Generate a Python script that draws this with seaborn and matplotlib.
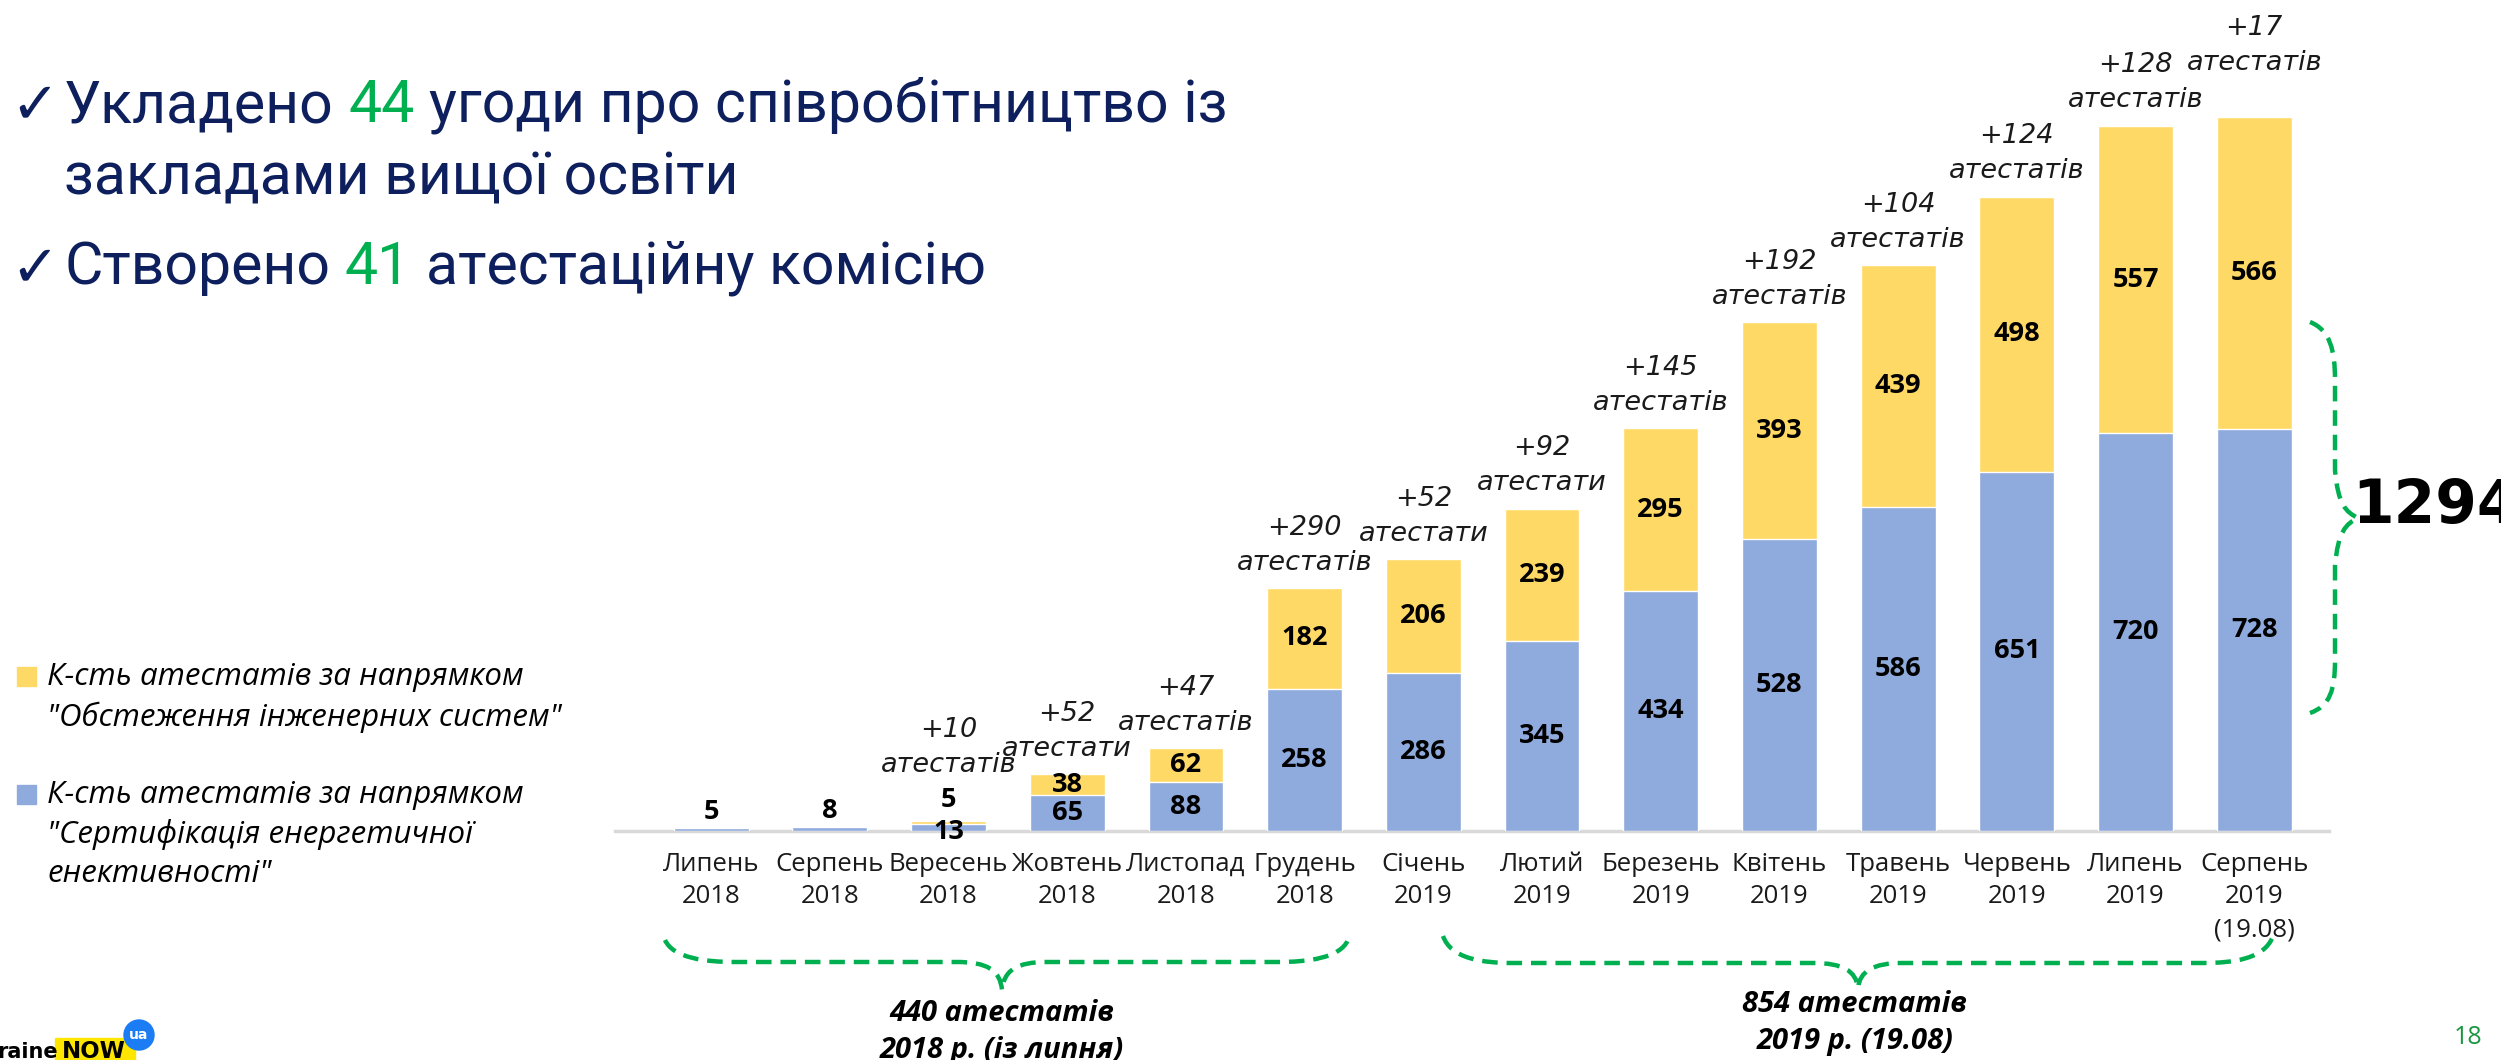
import matplotlib
matplotlib.use("Agg")
import matplotlib.pyplot as plt
from matplotlib import font_manager as fm
from matplotlib.path import Path
from matplotlib.patches import PathPatch, Rectangle, Circle
import pandas as pd
import seaborn as sns

# ---------- data ----------
months = ["Липень\n2018", "Серпень\n2018", "Вересень\n2018", "Жовтень\n2018",
          "Листопад\n2018", "Грудень\n2018", "Січень\n2019", "Лютий\n2019",
          "Березень\n2019", "Квітень\n2019", "Травень\n2019", "Червень\n2019",
          "Липень\n2019", "Серпень\n2019\n(19.08)"]
energy_cert = [5, 8, 13, 65, 88, 258, 286, 345, 434, 528, 586, 651, 720, 728]
eng_survey = [0, 0, 5, 38, 62, 182, 206, 239, 295, 393, 439, 498, 557, 566]
increments = ["", "", "+10\nатестатів", "+52\nатестати", "+47\nатестатів",
              "+290\nатестатів", "+52\nатестати", "+92\nатестати",
              "+145\nатестатів", "+192\nатестатів", "+104\nатестатів",
              "+124\nатестатів", "+128\nатестатів", "+17\nатестатів"]
legend_labels = ["К-сть атестатів за напрямком\n\"Обстеження інженерних систем\"",
                 "К-сть атестатів за напрямком\n\"Сертифікація енергетичної\nенективності\""]
total_label = "1294"
brace_2018 = "440 атестатів\n2018 р. (із липня)"
brace_2019 = "854 атестатів\n2019 р. (19.08)"

YELLOW = "#ffd966"
BLUE = "#8faadc"
GREEN = "#00b050"
NAVY = "#0e1f5e"

# pick a narrow face for the headline if one is around
_names = {f.name for f in fm.fontManager.ttflist}
HEAD = ["Liberation Sans Narrow" if "Liberation Sans Narrow" in _names else "Roboto",
        "DejaVu Sans"]
BODY = ["Open Sans", "DejaVu Sans"]
ROUND = ["DejaVu Sans"]

df = pd.DataFrame({"month": months, "cert": energy_cert, "survey": eng_survey})
df["total"] = df["cert"] + df["survey"]

sns.set_style("white")
plt.rcParams["font.family"] = BODY

fig = plt.figure(figsize=(25.01, 10.60), dpi=100)
ax = fig.add_axes([615 / 2501, (1060 - 831) / 1060, (2329 - 615) / 2501, 831 / 1060])

sns.barplot(data=df, x="month", y="total", color=YELLOW, saturation=1,
            width=0.63, ax=ax, zorder=2)
sns.barplot(data=df, x="month", y="cert", color=BLUE, saturation=1,
            width=0.63, ax=ax, zorder=3)

ax.set_xlim(-0.81, 13.63)
ax.set_ylim(0, 1505)
for s in ["top", "right", "left"]:
    ax.spines[s].set_visible(False)
ax.spines["bottom"].set_color("#d9d9d9")
ax.spines["bottom"].set_linewidth(2.5)
ax.set_xlabel("")
ax.set_ylabel("")
ax.set_yticks([])
ax.set_xticks(range(len(months)))
ax.set_xticklabels(months, family=BODY, fontsize=18.5, color="#1a1a1a",
                   linespacing=1.4, va="top")
ax.tick_params(axis="x", length=0, pad=15)

# data labels + increments
lab = dict(family=BODY, fontsize=19.5, fontweight="bold", color="black",
           ha="center", zorder=5)
totals = df["total"].tolist()
for i, (c, s) in enumerate(zip(energy_cert, eng_survey)):
    tot = c + s
    extra = 0
    if s == 0:
        ax.annotate(str(c), (i, c), xytext=(0, 2), textcoords="offset points",
                    va="bottom", **lab)
    elif tot < 40:
        ax.annotate(str(c), (i, 0), xytext=(0, -1), textcoords="offset points",
                    va="center", **lab)
        ax.annotate(str(s), (i, tot), xytext=(0, 6), textcoords="offset points",
                    va="bottom", **lab)
        extra = 22
    else:
        ax.text(i, c / 2, str(c), va="center", **lab)
        ax.text(i, c + s / 2, str(s), va="center", **lab)
    if increments[i]:
        # lift the label a line when the bar before is nearly as tall
        if i > 0 and tot - totals[i - 1] < 0.05 * tot:
            extra += 20
        ax.annotate(increments[i], (i, tot), xytext=(0, 9 + extra),
                    textcoords="offset points", ha="center", va="bottom",
                    family=ROUND, fontstyle="italic", fontsize=19.5,
                    color="#1a1a1a", linespacing=1.45, annotation_clip=False)

# ---------- overlay in figure pixels ----------
ov = fig.add_axes([0, 0, 1, 1], facecolor="none", zorder=10)
ov.set_xlim(0, 2501)
ov.set_ylim(1060, 0)
ov.axis("off")
rend = fig.canvas.get_renderer()


def text_w(s, **kw):
    t = ov.text(0, 0, s, **kw)
    w = t.get_window_extent(renderer=rend).width
    t.remove()
    return w


def rich_line(x, y, parts, **kw):
    prefix = ""
    for s, col in parts:
        if s == " ":
            prefix += s
            continue
        off = text_w(prefix + "X", **kw) - text_w("X", **kw) if prefix else 0
        ov.text(x + off, y, s, color=col, ha="left", va="baseline", **kw)
        prefix += s


tkw = dict(family=HEAD, fontsize=42.5)
ck = dict(color=NAVY, family=["DejaVu Sans"], fontsize=42, va="baseline")
ov.text(10, 122, "✓", **ck)
ov.text(10, 285, "✓", **ck)
rich_line(64, 122, [("Укладено", NAVY), (" ", None), ("44", GREEN), (" ", None),
                    ("угоди про співробітництво із", NAVY)], **tkw)
ov.text(64, 194, "закладами вищої освіти", color=NAVY, va="baseline", **tkw)
rich_line(64, 284, [("Створено", NAVY), (" ", None), ("41", GREEN), (" ", None),
                    ("атестаційну комісію", NAVY)], **tkw)

# legend
ov.add_patch(Rectangle((17, 667), 19, 19, color=YELLOW))
ov.add_patch(Rectangle((17, 785), 19, 19, color=BLUE))
lkw = dict(family=BODY, fontsize=22.5, fontstyle="italic", color="black",
           linespacing=1.38, va="top", ha="left")
ov.text(47, 662, legend_labels[0], **lkw)
ov.text(47, 780, legend_labels[1], **lkw)


def hbrace(x0, x1, xt, ye, ym, yt):
    verts = [(x0, ye), (x0 + 8, ym - 4), (x0 + 40, ym), (x0 + 70, ym),
             (xt - 45, ym), (xt - 15, ym), (xt - 2, ym + 8), (xt, yt),
             (xt + 2, ym + 8), (xt + 15, ym), (xt + 45, ym),
             (x1 - 70, ym), (x1 - 40, ym), (x1 - 8, ym - 4), (x1, ye)]
    codes = [Path.MOVETO, Path.CURVE4, Path.CURVE4, Path.CURVE4,
             Path.LINETO, Path.CURVE4, Path.CURVE4, Path.CURVE4,
             Path.CURVE4, Path.CURVE4, Path.CURVE4,
             Path.LINETO, Path.CURVE4, Path.CURVE4, Path.CURVE4]
    ov.add_patch(PathPatch(Path(verts, codes), fill=False, edgecolor=GREEN,
                           lw=3.2, linestyle=(0, (3.5, 2))))


hbrace(665, 1348, 1002, 940, 962, 990)
hbrace(1443, 2273, 1858, 936, 963, 988)

# vertical brace on the right
vv = [(2310, 322), (2330, 330), (2335, 350), (2335, 380),
      (2335, 470), (2338, 505), (2346, 512), (2358, 518),
      (2346, 524), (2338, 531), (2335, 566),
      (2335, 660), (2335, 690), (2330, 706), (2310, 713)]
vc = [Path.MOVETO, Path.CURVE4, Path.CURVE4, Path.CURVE4,
      Path.LINETO, Path.CURVE4, Path.CURVE4, Path.CURVE4,
      Path.CURVE4, Path.CURVE4, Path.CURVE4,
      Path.LINETO, Path.CURVE4, Path.CURVE4, Path.CURVE4]
ov.add_patch(PathPatch(Path(vv, vc), fill=False, edgecolor=GREEN, lw=3.2,
                       linestyle=(0, (3.5, 2))))
ov.text(2352, 506, total_label, family=ROUND, fontsize=43, fontweight="bold",
        color="black", va="center", ha="left")

bkw = dict(family=BODY, fontsize=21, fontweight="bold", fontstyle="italic",
           color="black", ha="center", va="center", linespacing=1.4)
ov.text(1002, 1032, brace_2018, **bkw)
ov.text(1855, 1023, brace_2019, **bkw)

ov.text(2482, 1037, "18", color="#1a9641", fontsize=18, ha="right", va="center",
        family=BODY)

# logo, bottom left
ov.add_patch(Rectangle((55, 1038), 80, 22, color="#ffe600"))
ov.text(-3, 1058, "raine", family=["DejaVu Sans"], fontsize=15, fontweight="bold",
        color="black", va="baseline", ha="left")
ov.text(62, 1058, "NOW", family=["DejaVu Sans"], fontsize=16.5, fontweight="bold",
        color="black", va="baseline")
ov.add_patch(Circle((139, 1035), 15, color="#1c7cf4"))
ov.text(139, 1035, "ua", family=["DejaVu Sans"], fontsize=10, fontweight="bold",
        color="white", ha="center", va="center")

fig.savefig("out.png", dpi=100)
